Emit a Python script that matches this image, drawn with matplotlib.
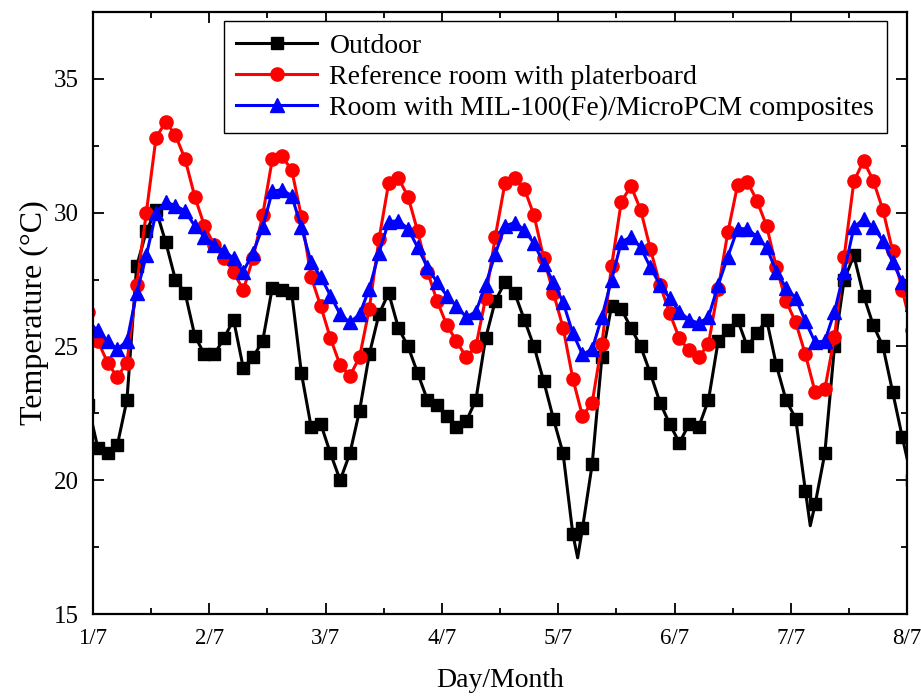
import numpy as np
import matplotlib
matplotlib.use('Agg')
import matplotlib.pyplot as plt
from matplotlib.ticker import MultipleLocator

plt.rcParams['font.family'] = ['Liberation Serif', 'DejaVu Serif']

# time in hours from 1/7 00:00, one reading every 2 h
hours = np.arange(-1, 170, 2)
day_labels = ['1/7', '2/7', '3/7', '4/7', '5/7', '6/7', '7/7', '8/7']

outdoor = [22.8,
           21.2, 21.0, 21.3, 23.0, 28.0, 29.3, 30.1, 28.9, 27.5, 27.0, 25.4, 24.7,
           24.7, 25.3, 26.0, 24.2, 24.6, 25.2, 27.2, 27.1, 27.0, 24.0, 22.0, 22.1,
           21.0, 20.0, 21.0, 22.6, 24.7, 26.2, 27.0, 25.7, 25.0, 24.0, 23.0, 22.8,
           22.4, 22.0, 22.2, 23.0, 25.3, 26.7, 27.4, 27.0, 26.0, 25.0, 23.7, 22.3,
           21.0, 18.0, 18.2, 20.6, 24.6, 26.5, 26.4, 25.7, 25.0, 24.0, 22.9, 22.1,
           21.4, 22.1, 22.0, 23.0, 25.2, 25.6, 26.0, 25.0, 25.5, 26.0, 24.3, 23.0,
           22.3, 19.6, 19.1, 21.0, 25.0, 27.5, 28.4, 26.9, 25.8, 25.0, 23.3, 21.6,
           20.0]
# sharp minima of the outdoor curve between two readings
dip_hours = [100, 148]
dip_values = [17.1, 18.3]

reference = [26.3,
             25.2, 24.4, 23.85, 24.4, 27.3, 30.0, 32.8, 33.4, 32.9, 32.0, 30.6, 29.5,
             28.8, 28.3, 27.8, 27.1, 28.3, 29.9, 32.0, 32.1, 31.6, 29.85, 27.6, 26.5,
             25.3, 24.3, 23.9, 24.6, 26.4, 29.0, 31.1, 31.3, 30.6, 29.3, 27.8, 26.7,
             25.8, 25.2, 24.6, 25.0, 26.8, 29.1, 31.1, 31.3, 30.9, 29.9, 28.3, 27.0,
             25.7, 23.8, 22.4, 22.9, 25.1, 28.0, 30.4, 31.0, 30.1, 28.65, 27.3, 26.24,
             25.3, 24.85, 24.6, 25.1, 27.15, 29.27, 31.03, 31.16, 30.45, 29.5, 27.96, 26.7,
             25.9, 24.7, 23.3, 23.4, 25.35, 28.36, 31.17, 31.94, 31.2, 30.1, 28.56, 27.1,
             25.6]

pcm_room = [25.9,
            25.6, 25.2, 24.9, 25.2, 27.0, 28.4, 30.0, 30.4, 30.26, 30.07, 29.5, 29.1,
            28.8, 28.56, 28.3, 27.8, 28.5, 29.45, 30.8, 30.86, 30.63, 29.45, 28.15, 27.6,
            26.9, 26.2, 25.9, 26.2, 27.15, 28.5, 29.66, 29.7, 29.4, 28.7, 27.96, 27.4,
            26.9, 26.5, 26.1, 26.3, 27.3, 28.46, 29.5, 29.63, 29.35, 28.85, 28.1, 27.4,
            26.65, 25.5, 24.7, 24.9, 26.1, 27.5, 28.9, 29.1, 28.7, 27.96, 27.3, 26.8,
            26.3, 26.0, 25.87, 26.1, 27.3, 28.36, 29.4, 29.4, 29.1, 28.7, 27.8, 27.2,
            26.8, 25.94, 25.16, 25.2, 26.3, 27.8, 29.45, 29.76, 29.45, 28.96, 28.15, 27.4,
            26.6]

# outdoor line with the dips merged in, markers only on the readings
out_h = np.concatenate([hours, dip_hours])
out_v = np.concatenate([outdoor, dip_values])
order = np.argsort(out_h, kind='stable')
out_h, out_v = out_h[order], out_v[order]
mark_idx = [i for i, h in enumerate(out_h) if h not in dip_hours]

fig = plt.figure(figsize=(9.21, 6.98), dpi=100)
ax = fig.add_axes([0.101, 0.1203, 0.884, 0.8625])

ax.plot(out_h, out_v, color='black', lw=2.2, marker='s', ms=8.5,
        markevery=mark_idx, label='Outdoor')
ax.plot(hours, reference, color='red', lw=2.2, marker='o', ms=9.5,
        label='Reference room with platerboard')
ax.plot(hours, pcm_room, color='blue', lw=2.2, marker='^', ms=10,
        label='Room with MIL-100(Fe)/MicroPCM composites')

ax.set_xlim(0, 168)
ax.set_ylim(15, 37.5)
ax.set_xticks(np.arange(0, 169, 24))
ax.set_xticklabels(day_labels)
ax.xaxis.set_minor_locator(MultipleLocator(12))
ax.set_yticks([15, 20, 25, 30, 35])
ax.yaxis.set_minor_locator(MultipleLocator(2.5))

ax.tick_params(which='both', direction='in', top=True, right=True, width=1.3)
ax.tick_params(axis='x', labelsize=16.5)
ax.tick_params(axis='y', labelsize=18)
ax.tick_params(which='major', length=8, pad=10)
ax.tick_params(which='minor', length=4)
for sp in ax.spines.values():
    sp.set_linewidth(1.6)

ax.set_xlabel('Day/Month', fontsize=20, labelpad=14)
ax.set_ylabel('Temperature (°C)', fontsize=23, labelpad=4)

leg = ax.legend(loc='upper right', bbox_to_anchor=(0.975, 0.985), borderaxespad=0,
                fontsize=20, frameon=True, fancybox=False, framealpha=1,
                handlelength=2.9, borderpad=0.45, labelspacing=0.2, handletextpad=0.45)
leg.get_frame().set_edgecolor('black')
leg.get_frame().set_linewidth(1.0)

plt.savefig('out.png', dpi=100)
